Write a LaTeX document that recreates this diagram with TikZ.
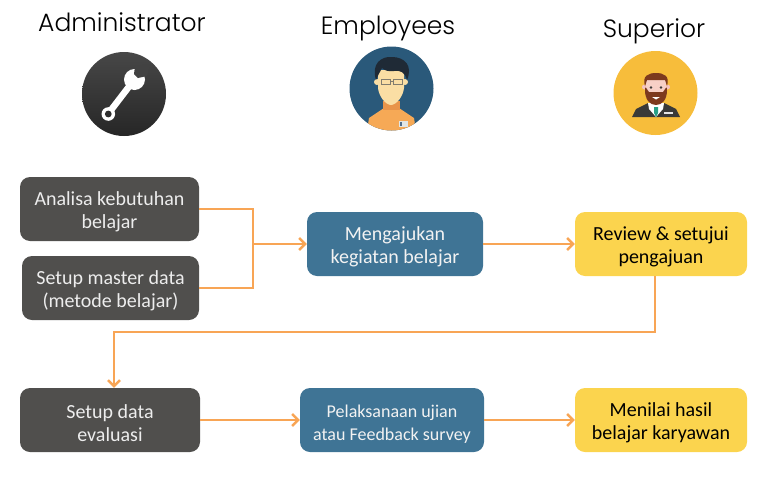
\documentclass[tikz,border=0pt]{standalone}
\usepackage{fontspec}
\setmainfont{Carlito}
\newfontfamily\headfont{Poppins Light}
\usetikzlibrary{arrows.meta}
\definecolor{boxdark}{HTML}{504F4D}
\definecolor{boxblue}{HTML}{3F7495}
\definecolor{boxyellow}{HTML}{FBD44E}
\definecolor{linkorange}{HTML}{F8A555}
\newcommand{\boxlift}{\rule{0pt}{20pt}}
\tikzset{
  flowbox/.style = {
    rounded corners=10pt, minimum height=64pt, align=center,
    inner sep=0pt, font=\fontsize{20}{23}\selectfont
  },
  darkbox/.style = {flowbox, fill=boxdark, text=white!93!black},
  bluebox/.style = {flowbox, fill=boxblue, text=white!95!black},
  yellowbox/.style = {flowbox, fill=boxyellow, text=black},
  link/.style = {draw=linkorange, line width=2.4pt, -{Straight Barb[length=6pt,width=12pt]}},
  linkplain/.style = {draw=linkorange, line width=2.4pt},
  role/.style = {anchor=base, inner sep=0pt, font=\headfont\fontsize{25}{30}\selectfont}
}

\begin{document}
\begin{tikzpicture}[x=1pt,y=-1pt]
  \useasboundingbox (0,0) rectangle (761,477);
  % headings
  \node[role] (admintitle) at (122,31) {Administrator};
  \node[role] (emptitle) at (388,34) {Employees};
  \node[role] (suptitle) at (654,37) {Superior};
  % administrator icon
  \shade[top color=black!72,bottom color=black!85] (124,94) circle (42);
  \draw[white,line width=6.5pt] (108,114) -- (131,84);
  \fill[white] (108.3,114) circle (6.8);
  \fill[black!82] (108.3,114) circle (3.4);
  \fill[white] (134.5,79.5) circle (10.5);
  \fill[black!74] (135,66) -- (134,74) -- (138,78) -- (147,76) -- (150,64) -- cycle;
  % employee icon
  \fill[color={rgb,255:red,42;green,89;blue,122}] (391.5,88.5) circle (42);
  \begin{scope}
    \clip (391.5,88.5) circle (42);
    \fill[color={rgb,255:red,246;green,169;blue,86}] (367,131) -- (369,118) -- (384,108) -- (399,108) -- (414,118) -- (416,131) -- cycle;
    \fill[color={rgb,255:red,232;green,148;blue,74}] (383,101) rectangle (400,110);
  \end{scope}
  \fill[color={rgb,255:red,250;green,222;blue,164}] (377,82) circle (3) (405,82) circle (3);
  \fill[color={rgb,255:red,250;green,222;blue,164}] (378,70) -- (404,70) -- (404,88) .. controls (403,97) and (396,105) .. (391,105) .. controls (386,105) and (379,97) .. (378,88) -- cycle;
  \fill[color={rgb,255:red,31;green,42;blue,54}] (376,80) .. controls (371,64) and (381,56) .. (392,57) .. controls (405,57) and (413,66) .. (407,80) .. controls (405,72) and (400,70) .. (394,71) .. controls (388,72) and (384,70) .. (382,68) .. controls (380,72) and (378,75) .. (376,80) -- cycle;
  \draw[color={rgb,255:red,130;green,125;blue,110},line width=1pt] (381,79) rectangle (390,84) (393,79) rectangle (402,84) (390,81) -- (393,81);
  \fill[color={rgb,255:red,225;green,230;blue,230}] (399,121) rectangle (408,127);
  \fill[color={rgb,255:red,80;green,110;blue,140}] (400,122) rectangle (402,126);
  % superior icon
  \fill[color={rgb,255:red,247;green,189;blue,59}] (655.5,93) circle (42);
  \fill[color={rgb,255:red,58;green,58;blue,56}] (632,117) -- (636,109) -- (648,103) -- (664,103) -- (676,109) -- (680,117) -- cycle;
  \fill[white] (648,103) -- (664,103) -- (663,109) -- (656,117) -- (649,109) -- cycle;
  \fill[color={rgb,255:red,40;green,160;blue,135}] (654,107) -- (658,107) -- (658,113) -- (656,117) -- (654,113) -- cycle;
  \fill[white!90!black] (664,112) rectangle (673,114);
  \fill[color={rgb,255:red,244;green,196;blue,190}] (644.5,87) circle (2.5) (667.5,87) circle (2.5);
  \fill[color={rgb,255:red,247;green,208;blue,198}] (646,78) rectangle (666,98);
  \fill[color={rgb,255:red,125;green,58;blue,30}] (645,90) .. controls (645,84) and (647,90) .. (649,92) -- (663,92) .. controls (665,90) and (667,84) .. (667,90) .. controls (667,100) and (662,105) .. (656,105) .. controls (650,105) and (645,100) .. (645,90) -- cycle;
  \fill[color={rgb,255:red,125;green,58;blue,30}] (645,86) .. controls (642,76) and (648,73) .. (656,73) .. controls (664,73) and (670,76) .. (667,86) -- (665,80) -- (647,80) -- cycle;
  \fill[color={rgb,255:red,60;green,60;blue,60}] (651,87.5) circle (1.4) (661,87.5) circle (1.4);
  \fill[white] (652,97) -- (660,97) -- (656,99.5) -- cycle;
  % flow boxes
  \node[darkbox,minimum width=179pt] (analisa) at (109.5,209) {\boxlift Analisa kebutuhan\\belajar};
  \node[darkbox,minimum width=177pt] (master) at (110.5,288) {\boxlift Setup master data\\(metode belajar)};
  \node[bluebox,minimum width=176pt] (ajukan) at (395,244) {\boxlift Mengajukan\\kegiatan belajar};
  \node[yellowbox,minimum width=172pt] (review) at (661,244) {\boxlift Review \& setujui\\pengajuan};
  \node[darkbox,minimum width=180pt] (evaluasi) at (110,420) {\boxlift Setup data\\evaluasi};
  \node[bluebox,minimum width=184pt,font=\fontsize{18}{23}\selectfont] (ujian) at (392,420) {\boxlift Pelaksanaan ujian\\atau Feedback survey};
  \node[yellowbox,minimum width=172pt] (nilai) at (661,420) {\boxlift Menilai hasil\\belajar karyawan};
  % connectors
  \coordinate (merge) at (253,244);
  \coordinate (turn) at (655,332);
  \draw[linkplain] (analisa.east) -| (merge);
  \draw[linkplain] (master.east) -| (merge);
  \draw[link] (merge) -- (ajukan.west);
  \draw[link] (ajukan.east) -- (review.west);
  \draw[link] (review.south -| turn) -- (turn) -| ([xshift=4pt]evaluasi.north);
  \draw[link] (evaluasi.east) -- (ujian.west);
  \draw[link] (ujian.east) -- (nilai.west);
\end{tikzpicture}
\end{document}
